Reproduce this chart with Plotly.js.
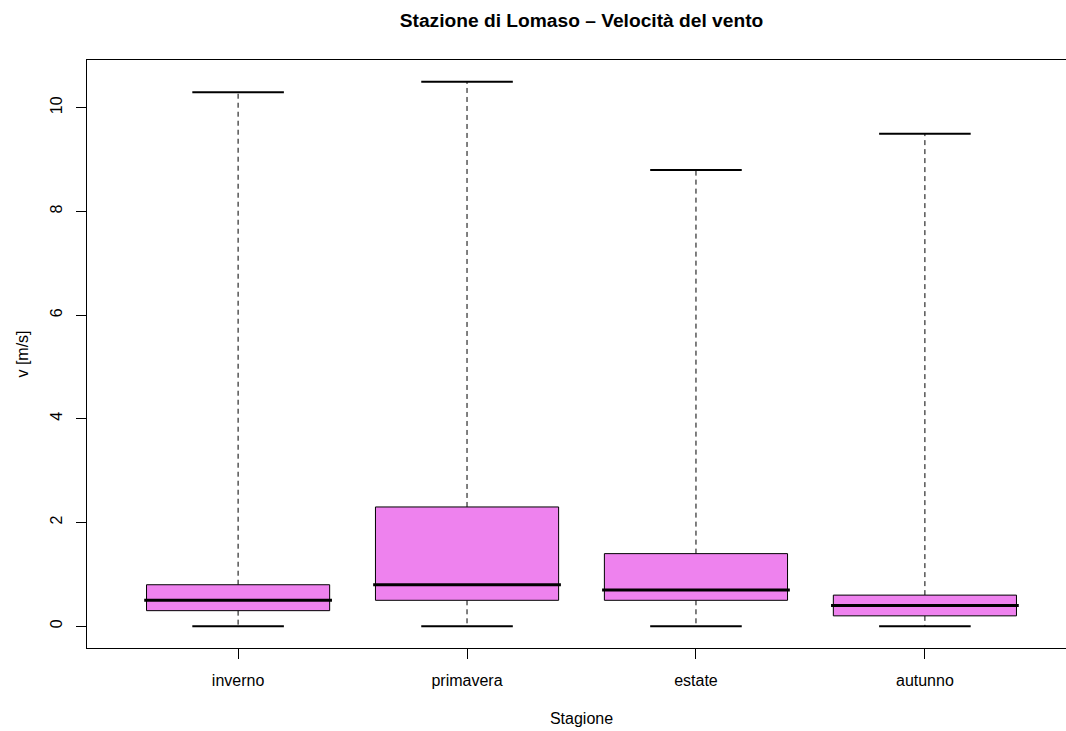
<!DOCTYPE html>
<html>
<head>
<meta charset="utf-8">
<script src="https://cdn.plot.ly/plotly-3.0.1.min.js"></script>
<style>
html, body { margin: 0; padding: 0; overflow: hidden; background: #fff; }
#chart { width: 1092px; height: 731px; }
</style>
</head>
<body>
<div id="chart"></div>
<script>
// Data
const categories = ["inverno", "primavera", "estate", "autunno"];
const whiskerLow = [0, 0, 0, 0];
const q1 = [0.3, 0.5, 0.5, 0.2];
const median = [0.5, 0.8, 0.7, 0.4];
const q3 = [0.8, 2.3, 1.4, 0.6];
const whiskerHigh = [10.3, 10.5, 8.8, 9.5];

const FONT = "Liberation Sans, Arial, Helvetica, sans-serif";
const boxHalf = 0.4;
const capHalf = 0.2;
const fillColor = "#EE82EE";

const traces = [];
const pos = categories.map((c, i) => i + 1);

// whiskers (dashed)
const wx = [], wy = [];
pos.forEach((p, i) => {
  wx.push(p, p, null, p, p, null);
  wy.push(q3[i], whiskerHigh[i], null, q1[i], whiskerLow[i], null);
});
traces.push({ type: "scatter", mode: "lines", x: wx, y: wy, hoverinfo: "skip",
  line: { color: "#000", width: 1, dash: "5px,4px" }, showlegend: false });

// caps
const cx = [], cy = [];
pos.forEach((p, i) => {
  cx.push(p - capHalf, p + capHalf, null, p - capHalf, p + capHalf, null);
  cy.push(whiskerHigh[i], whiskerHigh[i], null, whiskerLow[i], whiskerLow[i], null);
});
traces.push({ type: "scatter", mode: "lines", x: cx, y: cy, hoverinfo: "skip",
  line: { color: "#000", width: 2 }, showlegend: false });

// boxes
pos.forEach((p, i) => {
  traces.push({ type: "scatter", mode: "lines", fill: "toself", fillcolor: fillColor,
    x: [p - boxHalf, p + boxHalf, p + boxHalf, p - boxHalf, p - boxHalf],
    y: [q1[i], q1[i], q3[i], q3[i], q1[i]],
    line: { color: "#000", width: 1 }, name: categories[i], showlegend: false });
});

// medians
const mx = [], my = [];
pos.forEach((p, i) => {
  mx.push(p - boxHalf - 0.01, p + boxHalf + 0.01, null);
  my.push(median[i], median[i], null);
});
traces.push({ type: "scatter", mode: "lines", x: mx, y: my, hoverinfo: "skip",
  line: { color: "#000", width: 3 }, showlegend: false });

const layout = {
  width: 1092, height: 731,
  margin: { l: 87, r: 16, t: 60, b: 83 },
  paper_bgcolor: "#fff", plot_bgcolor: "#fff",
  font: { family: FONT, size: 16, color: "#000" },
  title: { text: "<b>Stazione di Lomaso – Velocità del vento</b>",
    font: { family: FONT, size: 19.2, color: "#000" },
    x: 0.5, xref: "paper", y: 1 - 20 / 731, yref: "container", yanchor: "middle" },
  xaxis: {
    range: [0.34, 4.66], tickvals: pos, ticktext: categories,
    showgrid: false, zeroline: false, showline: true, mirror: true,
    linecolor: "#000", linewidth: 1, ticks: "outside", ticklen: 10, tickcolor: "#000",
    ticklabelstandoff: 8,
    title: { text: "Stagione", standoff: 24, font: { family: FONT, size: 16 } },
    automargin: false
  },
  yaxis: {
    range: [-0.42, 10.92], tickvals: [0, 2, 4, 6, 8, 10],
    showgrid: false, zeroline: false, showline: true, mirror: true,
    linecolor: "#000", linewidth: 1, ticks: "outside", ticklen: 10, tickcolor: "#000",
    tickangle: -90, ticklabelstandoff: 8,
    title: { text: "v [m/s]", standoff: 14, font: { family: FONT, size: 16 } },
    automargin: false
  }
};

Plotly.newPlot("chart", traces, layout, { displayModeBar: false, staticPlot: true });
</script>
</body>
</html>
